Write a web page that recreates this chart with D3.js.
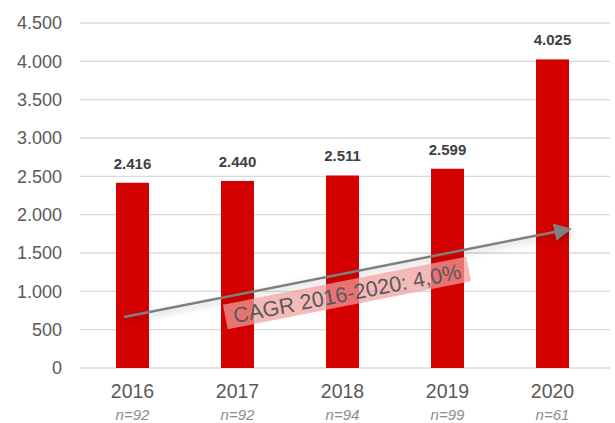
<!DOCTYPE html>
<html><head><meta charset="utf-8">
<script src="https://cdn.jsdelivr.net/npm/d3@7"></script>
<style>body{margin:0;background:#fff}svg{display:block;font-family:"Liberation Sans",Arial,sans-serif}</style>
</head><body>
<script>
const years = ["2016","2017","2018","2019","2020"];
const values = [2416, 2440, 2511, 2599, 4025];
const sampleSizes = ["n=92","n=92","n=94","n=99","n=61"];
const yTicks = [0,500,1000,1500,2000,2500,3000,3500,4000,4500];
const cagrLabel = "CAGR 2016-2020: 4,0%";

const W=615,H=423;
const svg=d3.select("body").append("svg").attr("width",W).attr("height",H);
const fmt = v => d3.format(",")(v).replace(/,/g,".");

const x=d3.scaleBand().domain(years).range([80,605]).paddingInner(0.686).paddingOuter(0.343);
const y=d3.scaleLinear().domain([0,4500]).range([368,23]);

// gridlines
svg.append("g").selectAll("line").data(yTicks).join("line")
  .attr("x1",80).attr("x2",610).attr("y1",d=>y(d)).attr("y2",d=>y(d))
  .attr("stroke","#d9d9d9").attr("stroke-width",1.3);

// y axis labels
const ya=svg.append("g").attr("transform","translate(62,0)")
  .call(d3.axisLeft(y).tickValues(yTicks).tickSize(0).tickPadding(0).tickFormat(fmt));
ya.select(".domain").remove();
ya.selectAll("text").attr("font-size",18).attr("fill","#595959").attr("font-family","Liberation Sans, Arial, sans-serif");

// bars
svg.append("g").selectAll("rect").data(values).join("rect")
  .attr("x",(d,i)=>x(years[i])).attr("width",x.bandwidth())
  .attr("y",d=>y(d)).attr("height",d=>y(0)-y(d)).attr("fill","#d40000");

// value labels
svg.append("g").selectAll("text").data(values).join("text")
  .attr("x",(d,i)=>x(years[i])+x.bandwidth()/2).attr("y",d=>y(d)-14)
  .attr("text-anchor","middle").attr("font-size",15).attr("font-weight","bold").attr("fill","#404040")
  .text(d=>fmt(d));

// x axis
const xa=svg.append("g").attr("transform","translate(0,378)")
  .call(d3.axisBottom(x).tickSize(0).tickPadding(0));
xa.select(".domain").remove();
xa.selectAll("text").attr("dy","0").attr("y",20).attr("font-size",19.5).attr("fill","#595959").attr("font-family","Liberation Sans, Arial, sans-serif");

svg.append("g").selectAll("text").data(sampleSizes).join("text")
  .attr("x",(d,i)=>x(years[i])+x.bandwidth()/2).attr("y",420)
  .attr("text-anchor","middle").attr("font-size",15).attr("font-style","italic").attr("fill","#8c8c8c")
  .text(d=>d);

// CAGR arrow
const defs=svg.append("defs");
const f=defs.append("filter").attr("id","sh").attr("x","-10%").attr("y","-50%").attr("width","120%").attr("height","300%");
f.append("feDropShadow").attr("dx",1.5).attr("dy",3).attr("stdDeviation",3).attr("flood-color","#000").attr("flood-opacity",0.22);
defs.append("marker").attr("id","ah").attr("viewBox","0 0 10 10").attr("refX",9).attr("refY",5)
  .attr("markerWidth",7).attr("markerHeight",7).attr("markerUnits","strokeWidth").attr("orient","auto")
  .append("path").attr("d","M0,0 L10,5 L0,10 z").attr("fill","#7f7f7f");

const x0=x("2016")+8, y0=317, x1=x("2020")+x.bandwidth()+1, y1=229;
svg.append("line").attr("x1",x0).attr("y1",y0).attr("x2",x1).attr("y2",y1)
  .attr("stroke","#7f7f7f").attr("stroke-width",2.5).attr("marker-end","url(#ah)").attr("filter","url(#sh)");

const ang=Math.atan2(y1-y0,x1-x0)*180/Math.PI;
const lg=svg.append("g").attr("transform",`translate(347,293) rotate(${ang})`);
lg.append("rect").attr("x",-124).attr("y",-12.5).attr("width",248).attr("height",25)
  .attr("fill","#f0a0a0").attr("opacity",0.72);
lg.append("text").attr("x",0).attr("y",8).attr("text-anchor","middle").attr("font-size",21.5).attr("fill","#595959").text(cagrLabel);
</script>
</body></html>
